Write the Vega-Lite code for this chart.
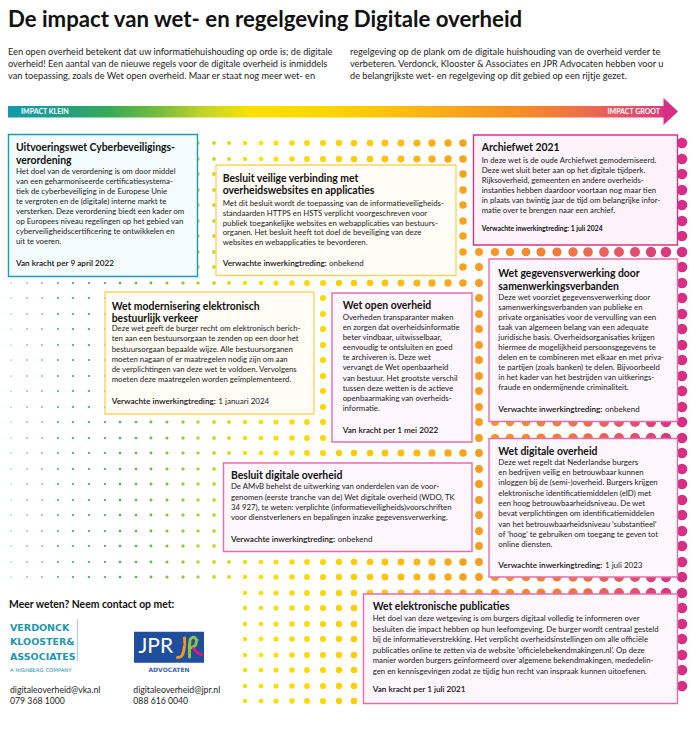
{
"$schema":"https://vega.github.io/schema/vega-lite/v6.json",
"width":693,"height":730,
"autosize":{"type":"fit","contains":"padding"},
"padding":0,
"background":"#ffffff",
"config":{"view":{"stroke":null},"font":"Lato"},
"datasets":{
"dots":[
{"y":143,"xs":[11,27,42,58,73,89,105,120,136,151,167,183,198,214,229,245,261,276,292,307,323,339,354,370,385,401,417,432,448,463,479,495,510,526,541,557,573,588,604,619,635,651,666,682]},
{"y":159,"xs":[11,27,42,58,73,89,105,120,136,151,167,183,198,214,229,245,261,276,292,307,323,339,354,370,385,401,417,432,448,463,479,495,510,526,541,557,573,588,604,619,635,651,666,682]},
{"y":174,"xs":[11,27,42,58,73,89,105,120,136,151,167,183,198,214,229,245,261,276,292,307,323,339,354,370,385,401,417,432,448,463,479,495,510,526,541,557,573,588,604,619,635,651,666,682]},
{"y":190,"xs":[11,27,42,58,73,89,105,120,136,151,167,183,198,214,229,245,261,276,292,307,323,339,354,370,385,401,417,432,448,463,479,495,510,526,541,557,573,588,604,619,635,651,666,682]},
{"y":205,"xs":[11,27,42,58,73,89,105,120,136,151,167,183,198,214,229,245,261,276,292,307,323,339,354,370,385,401,417,432,448,463,479,495,510,526,541,557,573,588,604,619,635,651,666,682]},
{"y":221,"xs":[11,27,42,58,73,89,105,120,136,151,167,183,198,214,229,245,261,276,292,307,323,339,354,370,385,401,417,432,448,463,479,495,510,526,541,557,573,588,604,619,635,651,666,682]},
{"y":236,"xs":[11,27,42,58,73,89,105,120,136,151,167,183,198,214,229,245,261,276,292,307,323,339,354,370,385,401,417,432,448,463,479,495,510,526,541,557,573,588,604,619,635,651,666,682]},
{"y":252,"xs":[11,27,42,58,73,89,105,120,136,151,167,183,198,214,229,245,261,276,292,307,323,339,354,370,385,401,417,432,448,463,479,495,510,526,541,557,573,588,604,619,635,651,666,682]},
{"y":267,"xs":[11,27,42,58,73,89,105,120,136,151,167,183,198,214,229,245,261,276,292,307,323,339,354,370,385,401,417,432,448,463,479,495,510,526,541,557,573,588,604,619,635,651,666,682]},
{"y":283,"xs":[11,27,42,58,73,89,105,120,136,151,167,183,198,214,229,245,261,276,292,307,323,339,354,370,385,401,417,432,448,463,479,495,510,526,541,557,573,588,604,619,635,651,666,682]},
{"y":298,"xs":[11,27,42,58,73,89,105,120,136,151,167,183,198,214,229,245,261,276,292,307,323,339,354,370,385,401,417,432,448,463,479,495,510,526,541,557,573,588,604,619,635,651,666,682]},
{"y":314,"xs":[11,27,42,58,73,89,105,120,136,151,167,183,198,214,229,245,261,276,292,307,323,339,354,370,385,401,417,432,448,463,479,495,510,526,541,557,573,588,604,619,635,651,666,682]},
{"y":329,"xs":[11,27,42,58,73,89,105,120,136,151,167,183,198,214,229,245,261,276,292,307,323,339,354,370,385,401,417,432,448,463,479,495,510,526,541,557,573,588,604,619,635,651,666,682]},
{"y":345,"xs":[11,27,42,58,73,89,105,120,136,151,167,183,198,214,229,245,261,276,292,307,323,339,354,370,385,401,417,432,448,463,479,495,510,526,541,557,573,588,604,619,635,651,666,682]},
{"y":360,"xs":[11,27,42,58,73,89,105,120,136,151,167,183,198,214,229,245,261,276,292,307,323,339,354,370,385,401,417,432,448,463,479,495,510,526,541,557,573,588,604,619,635,651,666,682]},
{"y":376,"xs":[11,27,42,58,73,89,105,120,136,151,167,183,198,214,229,245,261,276,292,307,323,339,354,370,385,401,417,432,448,463,479,495,510,526,541,557,573,588,604,619,635,651,666,682]},
{"y":391,"xs":[11,27,42,58,73,89,105,120,136,151,167,183,198,214,229,245,261,276,292,307,323,339,354,370,385,401,417,432,448,463,479,495,510,526,541,557,573,588,604,619,635,651,666,682]},
{"y":407,"xs":[11,27,42,58,73,89,105,120,136,151,167,183,198,214,229,245,261,276,292,307,323,339,354,370,385,401,417,432,448,463,479,495,510,526,541,557,573,588,604,619,635,651,666,682]},
{"y":422,"xs":[11,27,42,58,73,89,105,120,136,151,167,183,198,214,229,245,261,276,292,307,323,339,354,370,385,401,417,432,448,463,479,495,510,526,541,557,573,588,604,619,635,651,666,682]},
{"y":438,"xs":[11,27,42,58,73,89,105,120,136,151,167,183,198,214,229,245,261,276,292,307,323,339,354,370,385,401,417,432,448,463,479,495,510,526,541,557,573,588,604,619,635,651,666,682]},
{"y":453,"xs":[11,27,42,58,73,89,105,120,136,151,167,183,198,214,229,245,261,276,292,307,323,339,354,370,385,401,417,432,448,463,479,495,510,526,541,557,573,588,604,619,635,651,666,682]},
{"y":469,"xs":[11,27,42,58,73,89,105,120,136,151,167,183,198,214,229,245,261,276,292,307,323,339,354,370,385,401,417,432,448,463,479,495,510,526,541,557,573,588,604,619,635,651,666,682]},
{"y":484,"xs":[11,27,42,58,73,89,105,120,136,151,167,183,198,214,229,245,261,276,292,307,323,339,354,370,385,401,417,432,448,463,479,495,510,526,541,557,573,588,604,619,635,651,666,682]},
{"y":500,"xs":[11,27,42,58,73,89,105,120,136,151,167,183,198,214,229,245,261,276,292,307,323,339,354,370,385,401,417,432,448,463,479,495,510,526,541,557,573,588,604,619,635,651,666,682]},
{"y":515,"xs":[11,27,42,58,73,89,105,120,136,151,167,183,198,214,229,245,261,276,292,307,323,339,354,370,385,401,417,432,448,463,479,495,510,526,541,557,573,588,604,619,635,651,666,682]},
{"y":531,"xs":[11,27,42,58,73,89,105,120,136,151,167,183,198,214,229,245,261,276,292,307,323,339,354,370,385,401,417,432,448,463,479,495,510,526,541,557,573,588,604,619,635,651,666,682]},
{"y":546,"xs":[11,27,42,58,73,89,105,120,136,151,167,183,198,214,229,245,261,276,292,307,323,339,354,370,385,401,417,432,448,463,479,495,510,526,541,557,573,588,604,619,635,651,666,682]},
{"y":562,"xs":[11,27,42,58,73,89,105,120,136,151,167,183,198,214,229,245,261,276,292,307,323,339,354,370,385,401,417,432,448,463,479,495,510,526,541,557,573,588,604,619,635,651,666,682]},
{"y":577,"xs":[11,27,42,58,73,89,105,120,136,151,167,183,198,214,229,245,261,276,292,307,323,339,354,370,385,401,417,432,448,463,479,495,510,526,541,557,573,588,604,619,635,651,666,682]},
{"y":593,"xs":[245,261,276,292,307,323,339,354,370,385,401,417,432,448,463,479,495,510,526,541,557,573,588,604,619,635,651,666,682]},
{"y":608,"xs":[245,261,276,292,307,323,339,354,370,385,401,417,432,448,463,479,495,510,526,541,557,573,588,604,619,635,651,666,682]},
{"y":624,"xs":[245,261,276,292,307,323,339,354,370,385,401,417,432,448,463,479,495,510,526,541,557,573,588,604,619,635,651,666,682]},
{"y":639,"xs":[245,261,276,292,307,323,339,354,370,385,401,417,432,448,463,479,495,510,526,541,557,573,588,604,619,635,651,666,682]},
{"y":655,"xs":[245,261,276,292,307,323,339,354,370,385,401,417,432,448,463,479,495,510,526,541,557,573,588,604,619,635,651,666,682]},
{"y":670,"xs":[245,261,276,292,307,323,339,354,370,385,401,417,432,448,463,479,495,510,526,541,557,573,588,604,619,635,651,666,682]},
{"y":686,"xs":[245,261,276,292,307,323,339,354,370,385,401,417,432,448,463,479,495,510,526,541,557,573,588,604,619,635,651,666,682]},
{"y":701,"xs":[245,261,276,292,307,323,339,354]}
],
"boxes":[
{"naam":"Uitvoeringswet Cyberbeveiligingsverordening","impact":"klein","x1":8.5,"x2":197.5,"y1":134.5,"y2":276.5},
{"naam":"Besluit veilige verbinding","impact":"middel","x1":216,"x2":456,"y1":165,"y2":275.5},
{"naam":"Archiefwet 2021","impact":"zeer groot","x1":473.5,"x2":677.5,"y1":135,"y2":245},
{"naam":"Wet modernisering elektronisch bestuurlijk verkeer","impact":"middel","x1":105,"x2":314,"y1":292,"y2":414},
{"naam":"Wet open overheid","impact":"groot","x1":332,"x2":472,"y1":293,"y2":442},
{"naam":"Wet gegevensverwerking","impact":"groot","x1":489,"x2":677.5,"y1":259,"y2":421.5},
{"naam":"Besluit digitale overheid","impact":"groot","x1":223.5,"x2":472,"y1":463,"y2":551.5},
{"naam":"Wet digitale overheid","impact":"groot","x1":489,"x2":677.5,"y1":438.5,"y2":577},
{"naam":"Wet elektronische publicaties","impact":"groot","x1":363.5,"x2":677.5,"y1":594,"y2":703.5}
],
"sq":[
{"s":"a","o":0,"x":184.5,"y":638},{"s":"a","o":1,"x":184.8,"y":645},{"s":"a","o":2,"x":183.5,"y":652},{"s":"a","o":3,"x":181,"y":656.5},{"s":"a","o":4,"x":177.5,"y":657.5},
{"s":"b","o":0,"x":189.5,"y":657},{"s":"b","o":1,"x":189.5,"y":646},{"s":"b","o":2,"x":190.5,"y":639},{"s":"b","o":3,"x":194,"y":637},{"s":"b","o":4,"x":197,"y":640},{"s":"b","o":5,"x":195.5,"y":645},{"s":"b","o":6,"x":191.5,"y":647.5},
{"s":"c","o":0,"x":193.5,"y":648.5},{"s":"c","o":1,"x":197.5,"y":652.5},{"s":"c","o":2,"x":201.5,"y":654.5}
],
"texts":[
{"r":"title","x":8,"y":19.5,"t":"De impact van wet- en regelgeving Digitale overheid"},
{"r":"intro","x":8,"y":52.3,"t":"Een open overheid betekent dat uw informatiehuishouding op orde is; de digitale"},
{"r":"intro","x":8,"y":64,"t":"overheid! Een aantal van de nieuwe regels voor de digitale overheid is inmiddels"},
{"r":"intro","x":8,"y":75.7,"t":"van toepassing, zoals de Wet open overheid. Maar er staat nog meer wet- en"},
{"r":"intro","x":350,"y":52.3,"t":"regelgeving op de plank om de digitale huishouding van de overheid verder te"},
{"r":"intro","x":350,"y":64,"t":"verbeteren. Verdonck, Klooster & Associates en JPR Advocaten hebben voor u"},
{"r":"intro","x":350,"y":75.7,"t":"de belangrijkste wet- en regelgeving op dit gebied op een rijtje gezet."},
{"r":"al","x":21,"y":111.8,"t":"IMPACT KLEIN"},
{"r":"ar","x":660,"y":111.8,"t":"IMPACT GROOT"},

{"r":"h","x":16,"y":148.3,"t":"Uitvoeringswet Cyberbeveiligings-"},
{"r":"h","x":16,"y":160.5,"t":"verordening"},
{"r":"b","x":16,"y":172.3,"t":"Het doel van de verordening is om door middel"},
{"r":"b","x":16,"y":182.2,"t":"van een geharmoniseerde certificatiesystema-"},
{"r":"b","x":16,"y":192.1,"t":"tiek de cyberbeveiliging in de Europese Unie"},
{"r":"b","x":16,"y":202.1,"t":"te vergroten en de (digitale) interne markt te"},
{"r":"b","x":16,"y":212,"t":"versterken. Deze verordening biedt een kader om"},
{"r":"b","x":16,"y":221.9,"t":"op Europees niveau regelingen op het gebied van"},
{"r":"b","x":16,"y":231.8,"t":"cyberveiligheidscertificering te ontwikkelen en"},
{"r":"b","x":16,"y":241.8,"t":"uit te voeren."},
{"r":"fb","x":16,"y":264,"t":"Van kracht per 9 april 2022"},

{"r":"h","x":222.7,"y":179,"t":"Besluit veilige verbinding met"},
{"r":"h","x":222.7,"y":191.3,"t":"overheidswebsites en applicaties"},
{"r":"b","x":222.7,"y":203.7,"t":"Met dit besluit wordt de toepassing van de informatieveiligheids-"},
{"r":"b","x":222.7,"y":213.6,"t":"standaarden HTTPS en HSTS verplicht voorgeschreven voor"},
{"r":"b","x":222.7,"y":223.5,"t":"publiek toegankelijke websites en webapplicaties van bestuurs-"},
{"r":"b","x":222.7,"y":233.4,"t":"organen. Het besluit heeft tot doel de beveiliging van deze"},
{"r":"b","x":222.7,"y":243.3,"t":"websites en webapplicaties te bevorderen."},
{"r":"fb","x":222.7,"y":264,"t":"Verwachte inwerkingtreding:"},
{"r":"fn","x":329,"y":264,"t":"onbekend"},

{"r":"h","x":481.7,"y":148.3,"t":"Archiefwet 2021"},
{"r":"b","x":481.7,"y":160.7,"t":"In deze wet is de oude Archiefwet gemoderniseerd."},
{"r":"b","x":481.7,"y":170.7,"t":"Deze wet sluit beter aan op het digitale tijdperk."},
{"r":"b","x":481.7,"y":180.7,"t":"Rijksoverheid, gemeenten en andere overheids-"},
{"r":"b","x":481.7,"y":190.7,"t":"instanties hebben daardoor voortaan nog maar tien"},
{"r":"b","x":481.7,"y":200.7,"t":"in plaats van twintig jaar de tijd om belangrijke infor-"},
{"r":"b","x":481.7,"y":210.7,"t":"matie over te brengen naar een archief."},
{"r":"fs","x":481.7,"y":228.7,"t":"Verwachte inwerkingtreding: 1 juli 2024"},

{"r":"h","x":111.7,"y":307.3,"t":"Wet modernisering elektronisch"},
{"r":"h","x":111.7,"y":319.3,"t":"bestuurlijk verkeer"},
{"r":"b","x":111.7,"y":329.3,"t":"Deze wet geeft de burger recht om elektronisch berich-"},
{"r":"b","x":111.7,"y":339.4,"t":"ten aan een bestuursorgaan te zenden op een door het"},
{"r":"b","x":111.7,"y":349.5,"t":"bestuursorgaan bepaalde wijze. Alle bestuursorganen"},
{"r":"b","x":111.7,"y":359.6,"t":"moeten nagaan of er maatregelen nodig zijn om aan"},
{"r":"b","x":111.7,"y":369.7,"t":"de verplichtingen van deze wet te voldoen. Vervolgens"},
{"r":"b","x":111.7,"y":379.8,"t":"moeten deze maatregelen worden geïmplementeerd."},
{"r":"fb","x":111.7,"y":402.3,"t":"Verwachte inwerkingtreding:"},
{"r":"fn","x":218.3,"y":402.3,"t":"1 januari 2024"},

{"r":"h","x":342.7,"y":306.3,"t":"Wet open overheid"},
{"r":"b","x":342.7,"y":317.7,"t":"Overheden transparanter maken"},
{"r":"b","x":342.7,"y":327.8,"t":"en zorgen dat overheidsinformatie"},
{"r":"b","x":342.7,"y":338,"t":"beter vindbaar, uitwisselbaar,"},
{"r":"b","x":342.7,"y":348.1,"t":"eenvoudig te ontsluiten en goed"},
{"r":"b","x":342.7,"y":358.2,"t":"te archiveren is. Deze wet"},
{"r":"b","x":342.7,"y":368.4,"t":"vervangt de Wet openbaarheid"},
{"r":"b","x":342.7,"y":378.6,"t":"van bestuur. Het grootste verschil"},
{"r":"b","x":342.7,"y":388.8,"t":"tussen deze wetten is de actieve"},
{"r":"b","x":342.7,"y":399,"t":"openbaarmaking van overheids-"},
{"r":"b","x":342.7,"y":409.2,"t":"informatie."},
{"r":"fb","x":342.7,"y":430.5,"t":"Van kracht per 1 mei 2022"},

{"r":"h","x":498.3,"y":274.3,"t":"Wet gegevensverwerking door"},
{"r":"h","x":498.3,"y":286.5,"t":"samenwerkingsverbanden"},
{"r":"b","x":498.3,"y":297.7,"t":"Deze wet voorziet gegevensverwerking door"},
{"r":"b","x":498.3,"y":307.8,"t":"samenwerkingsverbanden van publieke en"},
{"r":"b","x":498.3,"y":317.9,"t":"private organisaties voor de vervulling van een"},
{"r":"b","x":498.3,"y":328,"t":"taak van algemeen belang van een adequate"},
{"r":"b","x":498.3,"y":338,"t":"juridische basis. Overheidsorganisaties krijgen"},
{"r":"b","x":498.3,"y":348.1,"t":"hiermee de mogelijkheid persoonsgegevens te"},
{"r":"b","x":498.3,"y":358.2,"t":"delen en te combineren met elkaar en met priva-"},
{"r":"b","x":498.3,"y":368.3,"t":"te partijen (zoals banken) te delen. Bijvoorbeeld"},
{"r":"b","x":498.3,"y":378.3,"t":"in het kader van het bestrijden van uitkerings-"},
{"r":"b","x":498.3,"y":388.4,"t":"fraude en ondermijnende criminaliteit."},
{"r":"fb","x":498.3,"y":410,"t":"Verwachte inwerkingtreding:"},
{"r":"fn","x":605,"y":410,"t":"onbekend"},

{"r":"h","x":231,"y":476,"t":"Besluit digitale overheid"},
{"r":"b","x":231,"y":487.3,"t":"De AMvB behelst de uitwerking van onderdelen van de voor-"},
{"r":"b","x":231,"y":497.6,"t":"genomen (eerste tranche van de) Wet digitale overheid (WDO, TK"},
{"r":"b","x":231,"y":507.9,"t":"34 927), te weten: verplichte (informatieveiligheids)voorschriften"},
{"r":"b","x":231,"y":518.2,"t":"voor dienstverleners en bepalingen inzake gegevensverwerking."},
{"r":"fb","x":231,"y":539.5,"t":"Verwachte inwerkingtreding:"},
{"r":"fn","x":337.7,"y":539.5,"t":"onbekend"},

{"r":"h","x":498.3,"y":451.7,"t":"Wet digitale overheid"},
{"r":"b","x":498.3,"y":462.7,"t":"Deze wet regelt dat Nederlandse burgers"},
{"r":"b","x":498.3,"y":473,"t":"en bedrijven veilig en betrouwbaar kunnen"},
{"r":"b","x":498.3,"y":483.3,"t":"inloggen bij de (semi-)overheid. Burgers krijgen"},
{"r":"b","x":498.3,"y":493.7,"t":"elektronische identificatiemiddelen (eID) met"},
{"r":"b","x":498.3,"y":504,"t":"een hoog betrouwbaarheidsniveau. De wet"},
{"r":"b","x":498.3,"y":514.3,"t":"bevat verplichtingen om identificatiemiddelen"},
{"r":"b","x":498.3,"y":524.7,"t":"van het betrouwbaarheidsniveau ‘substantieel’"},
{"r":"b","x":498.3,"y":535,"t":"of ‘hoog’ te gebruiken om toegang te geven tot"},
{"r":"b","x":498.3,"y":545.3,"t":"online diensten."},
{"r":"fb","x":498.3,"y":565.7,"t":"Verwachte inwerkingtreding:"},
{"r":"fn","x":605,"y":565.7,"t":"1 juli 2023"},

{"r":"h","x":372.7,"y":607.3,"t":"Wet elektronische publicaties"},
{"r":"b","x":372.7,"y":619.3,"t":"Het doel van deze wetgeving is om burgers digitaal volledig te informeren over"},
{"r":"b","x":372.7,"y":629.8,"t":"besluiten die impact hebben op hun leefomgeving. De burger wordt centraal gesteld"},
{"r":"b","x":372.7,"y":640.3,"t":"bij de informatieverstrekking. Het verplicht overheidsinstellingen om alle officiële"},
{"r":"b","x":372.7,"y":650.8,"t":"publicaties online te zetten via de website ‘officielebekendmakingen.nl’. Op deze"},
{"r":"b","x":372.7,"y":661.3,"t":"manier worden burgers geïnformeerd over algemene bekendmakingen, mededelin-"},
{"r":"b","x":372.7,"y":671.8,"t":"gen en kennisgevingen zodat ze tijdig hun recht van inspraak kunnen uitoefenen."},
{"r":"fb","x":372.7,"y":690,"t":"Van kracht per 1 juli 2021"},

{"r":"h","x":9,"y":605,"t":"Meer weten? Neem contact op met:"},
{"r":"vka","x":10,"y":628.3,"t":"VERDONCK"},
{"r":"vka","x":10,"y":642.3,"t":"KLOOSTER&"},
{"r":"vka","x":10,"y":656.7,"t":"ASSOCIATES"},
{"r":"vks","x":10,"y":670,"t":"A HIGHBERG COMPANY"},
{"r":"jpr","x":138.5,"y":647,"t":"JPR"},
{"r":"adv","x":169,"y":670,"t":"ADVOCATEN"},
{"r":"c","x":10,"y":690,"t":"digitaleoverheid@vka.nl"},
{"r":"c","x":10,"y":700.7,"t":"079 368 1000"},
{"r":"c","x":133.3,"y":690,"t":"digitaleoverheid@jpr.nl"},
{"r":"c","x":133.3,"y":700.7,"t":"088 616 0040"}
]
},
"encoding":{
"x":{"field":"x","type":"quantitative","scale":{"domain":[0,693],"nice":false,"zero":false},"axis":null},
"y":{"field":"y","type":"quantitative","scale":{"domain":[0,730],"nice":false,"zero":false,"reverse":true},"axis":null}
},
"layer":[
{"data":{"name":"dots"},"transform":[{"flatten":["xs"]}],
"mark":{"type":"circle","opacity":1,"strokeWidth":0},
"encoding":{
"x":{"field":"xs","type":"quantitative"},
"size":{"field":"xs","type":"quantitative","legend":null,"scale":{"type":"linear","zero":false,"nice":false,"domain":[11,106,200,250,324,463,560,682],"range":[1.5,5,12.5,19.6,38,57,86,113]}},
"color":{"field":"xs","type":"quantitative","legend":null,"scale":{"interpolate":"rgb","zero":false,"nice":false,"domain":[11,60,110,160,205,250,320,390,450,520,580,630,682],"range":["#1597ac","#1e9f86","#3aa957","#79bc3f","#c4d42a","#fbe100","#fed700","#fcc30c","#f9a81a","#f58d28","#ee7048","#e3516a","#d62f86"]}}
}},
{"data":{"name":"boxes"},
"mark":{"type":"rect","strokeWidth":1.4},
"encoding":{
"x":{"field":"x1","type":"quantitative"},
"x2":{"field":"x2"},
"y":{"field":"y1","type":"quantitative"},
"y2":{"field":"y2"},
"fill":{"field":"impact","type":"nominal","legend":null,"scale":{"domain":["klein","middel","groot","zeer groot"],"range":["#f3fbfb","#fffdf6","#fdf6fb","#fcf3f9"]}},
"stroke":{"field":"impact","type":"nominal","legend":null,"scale":{"domain":["klein","middel","groot","zeer groot"],"range":["#1a9db2","#fbd45e","#e46dae","#d8338b"]}}
}},
{"data":{"values":[{"x1":8,"x2":664,"y1":106,"y2":117.5}]},
"mark":{"type":"rect","fill":{"gradient":"linear","x1":0,"y1":0,"x2":1,"y2":0,"stops":[
{"offset":0,"color":"#1597ac"},{"offset":0.079,"color":"#1e9f86"},{"offset":0.155,"color":"#3aa957"},{"offset":0.232,"color":"#79bc3f"},{"offset":0.3,"color":"#c4d42a"},{"offset":0.369,"color":"#fbe100"},{"offset":0.476,"color":"#fed700"},{"offset":0.582,"color":"#fcc30c"},{"offset":0.674,"color":"#f9a81a"},{"offset":0.78,"color":"#f58d28"},{"offset":0.872,"color":"#ee7048"},{"offset":0.948,"color":"#e3516a"},{"offset":1,"color":"#d93a7d"}]}},
"encoding":{"x":{"field":"x1","type":"quantitative"},"x2":{"field":"x2"},"y":{"field":"y1","type":"quantitative"},"y2":{"field":"y2"}}},
{"data":{"values":[{"x":663.5,"y":98,"y2":125},{"x":678,"y":111.5,"y2":111.5}]},
"mark":{"type":"area","color":"#d62f86","interpolate":"linear"},
"encoding":{"y2":{"field":"y2"}}},
{"data":{"values":[{"x1":134,"x2":204,"y1":631.7,"y2":662.7}]},
"mark":{"type":"rect","color":"#1f4e9e"},
"encoding":{"x":{"field":"x1","type":"quantitative"},"x2":{"field":"x2"},"y":{"field":"y1","type":"quantitative"},"y2":{"field":"y2"}}},
{"data":{"values":[{"x":77.5,"y1":619,"y2":661}]},
"mark":{"type":"rule","color":"#a9d3da","strokeWidth":1},
"encoding":{"y":{"field":"y1","type":"quantitative"},"y2":{"field":"y2"}}},
{"data":{"name":"sq"},
"mark":{"type":"line","strokeWidth":3,"strokeCap":"round","strokeJoin":"round","interpolate":"monotone"},
"encoding":{"order":{"field":"o","type":"quantitative"},"color":{"field":"s","type":"nominal","legend":null,"scale":{"domain":["a","b","c"],"range":["#f7941d","#8cc63f","#e5177e"]}}}},
{"data":{"name":"texts"},"transform":[{"filter":"datum.r==='title'"}],
"mark":{"type":"text","align":"left","baseline":"middle","font":"Lato","fontSize":22.2,"fontWeight":"bold","color":"#111111"},
"encoding":{"text":{"field":"t","type":"nominal"}}},
{"data":{"name":"texts"},"transform":[{"filter":"datum.r==='intro'"}],
"mark":{"type":"text","align":"left","baseline":"middle","font":"Lato","fontSize":9.2,"color":"#1d1d1b"},
"encoding":{"text":{"field":"t","type":"nominal"}}},
{"data":{"name":"texts"},"transform":[{"filter":"datum.r==='al'"}],
"mark":{"type":"text","align":"left","baseline":"middle","font":"Lato","fontSize":7,"fontWeight":"bold","color":"#ffffff"},
"encoding":{"text":{"field":"t","type":"nominal"}}},
{"data":{"name":"texts"},"transform":[{"filter":"datum.r==='ar'"}],
"mark":{"type":"text","align":"right","baseline":"middle","font":"Lato","fontSize":7,"fontWeight":"bold","color":"#ffffff"},
"encoding":{"text":{"field":"t","type":"nominal"}}},
{"data":{"name":"texts"},"transform":[{"filter":"datum.r==='h'"}],
"mark":{"type":"text","align":"left","baseline":"middle","font":"Lato","fontSize":10.4,"fontWeight":"bold","color":"#111111"},
"encoding":{"text":{"field":"t","type":"nominal"}}},
{"data":{"name":"texts"},"transform":[{"filter":"datum.r==='b'"}],
"mark":{"type":"text","align":"left","baseline":"middle","font":"Lato","fontSize":7.8,"color":"#222222"},
"encoding":{"text":{"field":"t","type":"nominal"}}},
{"data":{"name":"texts"},"transform":[{"filter":"datum.r==='fb'"}],
"mark":{"type":"text","align":"left","baseline":"middle","font":"Lato","fontSize":8.2,"fontWeight":600,"color":"#111111"},
"encoding":{"text":{"field":"t","type":"nominal"}}},
{"data":{"name":"texts"},"transform":[{"filter":"datum.r==='fn'"}],
"mark":{"type":"text","align":"left","baseline":"middle","font":"Lato","fontSize":8,"color":"#222222"},
"encoding":{"text":{"field":"t","type":"nominal"}}},
{"data":{"name":"texts"},"transform":[{"filter":"datum.r==='fs'"}],
"mark":{"type":"text","align":"left","baseline":"middle","font":"Lato","fontSize":6.8,"fontWeight":"bold","color":"#111111"},
"encoding":{"text":{"field":"t","type":"nominal"}}},
{"data":{"name":"texts"},"transform":[{"filter":"datum.r==='c'"}],
"mark":{"type":"text","align":"left","baseline":"middle","font":"Lato","fontSize":8.7,"color":"#1d1d1b"},
"encoding":{"text":{"field":"t","type":"nominal"}}},
{"data":{"name":"texts"},"transform":[{"filter":"datum.r==='vka'"}],
"mark":{"type":"text","align":"left","baseline":"middle","font":"DejaVu Sans","fontSize":9.5,"fontWeight":"bold","color":"#1d97ad"},
"encoding":{"text":{"field":"t","type":"nominal"}}},
{"data":{"name":"texts"},"transform":[{"filter":"datum.r==='vks'"}],
"mark":{"type":"text","align":"left","baseline":"middle","font":"DejaVu Sans","fontSize":5.3,"color":"#1d97ad"},
"encoding":{"text":{"field":"t","type":"nominal"}}},
{"data":{"name":"texts"},"transform":[{"filter":"datum.r==='jpr'"}],
"mark":{"type":"text","align":"left","baseline":"middle","font":"Lato","fontSize":21,"color":"#ffffff"},
"encoding":{"text":{"field":"t","type":"nominal"}}},
{"data":{"name":"texts"},"transform":[{"filter":"datum.r==='adv'"}],
"mark":{"type":"text","align":"center","baseline":"middle","font":"DejaVu Sans","fontSize":6,"fontWeight":"bold","color":"#3a66b0"},
"encoding":{"text":{"field":"t","type":"nominal"}}}
]
}
